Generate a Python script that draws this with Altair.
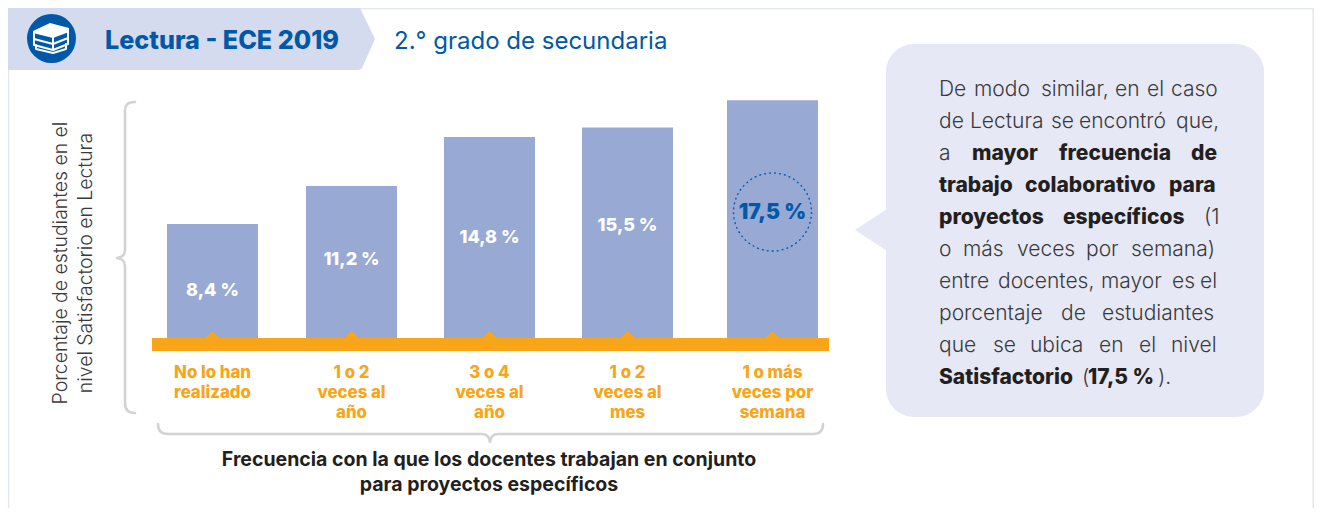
import altair as alt
import pandas as pd

CATEGORIES = ["No lo han\nrealizado", "1 o 2\nveces al\naño", "3 o 4\nveces al\naño", "1 o 2\nveces al\nmes", "1 o más\nveces por\nsemana"]
VALUES = [8.4, 11.2, 14.8, 15.5, 17.5]
VALUE_LABELS = ["8,4 %", "11,2 %", "14,8 %", "15,5 %", "17,5 %"]
LABEL_Y_IMG = [296, 265, 243, 231, 219]

BLUE = "#0058A9"; BAR = "#98A9D4"; ORANGE = "#F9A51A"; RIBBON = "#D5DBEE"; BUBBLE = "#E6E8F5"
GREY = "#D2D3D5"; INK = "#231F20"; SOFT = "#3A3A3C"; FRAME = "#E3E6F3"
FONT = "Inter"
OFF = 8

PARAGRAPH = [
    (96, [("De", 939, 0), ("modo", 974, 0), ("similar,", 1041, 0), ("en", 1115, 0), ("el", 1147, 0), ("caso", 1171, 0)]),
    (128, [("de", 939, 0), ("Lectura", 970, 0), ("se", 1051, 0), ("encontró", 1079, 0), ("que,", 1176, 0)]),
    (160, [("a", 939, 0), ("mayor", 972, 1), ("frecuencia", 1059, 1), ("de", 1191, 1)]),
    (192, [("trabajo", 939, 1), ("colaborativo", 1025, 1), ("para", 1169, 1)]),
    (224, [("proyectos", 939, 1), ("específicos", 1063, 1), ("(1", 1204, 0)]),
    (256, [("o", 939, 0), ("más", 963, 0), ("veces", 1017, 0), ("por", 1086, 0), ("semana)", 1131, 0)]),
    (288, [("entre", 939, 0), ("docentes,", 998, 0), ("mayor", 1101, 0), ("es", 1172, 0), ("el", 1200, 0)]),
    (320, [("porcentaje", 939, 0), ("de", 1061, 0), ("estudiantes", 1102, 0)]),
    (352, [("que", 939, 0), ("se", 993, 0), ("ubica", 1030, 0), ("en", 1099, 0), ("el", 1139, 0), ("nivel", 1171, 0)]),
    (384, [("Satisfactorio", 939, 1), ("(", 1082, 0), ("17,5 %", 1088, 1), (").", 1158, 0)]),
]

ranks = list(range(len(VALUES)))
bars = pd.DataFrame({"rank": ranks, "value": VALUES, "label": VALUE_LABELS, "cat": CATEGORIES,
                     "ly": [v - OFF for v in LABEL_Y_IMG]})
ONE = pd.DataFrame({"a": [0]})

X_RANK = alt.X("rank:Q", axis=None, scale=alt.Scale(domain=ranks, range=[204.5, 343.5, 481.5, 619.5, 764.5], padding=0, nice=False, zero=False))
Y_VAL = alt.Y("value:Q", axis=None, stack=None, scale=alt.Scale(domain=[0, 24.3], range=[330, 0]))


def shape(path, fill=None, stroke=None, width=2.0):
    kw = dict(shape=path, size=4, opacity=1)
    if fill:
        kw.update(filled=True, fill=fill, strokeWidth=0)
    else:
        kw.update(filled=False, stroke=stroke, strokeWidth=width, strokeCap="round", strokeJoin="round")
    return alt.Chart(ONE).mark_point(**kw).encode(x=alt.value(-OFF), y=alt.value(-OFF))


def text(t, x, y, size, color, weight=400, align="left", angle=0, font=FONT):
    return alt.Chart(ONE).mark_text(text=t, font=font, fontSize=size, fontWeight=weight, color=color,
                                    align=align, baseline="alphabetic", angle=angle).encode(
        x=alt.value(x - OFF), y=alt.value(y - OFF))


layers = [
    shape("M8.5,520 L8.5,8.5 L1313.2,8.5 L1313.2,520", stroke=FRAME, width=1.6),
    shape("M8,8 L360,8 L375,39 L362,68 Q361,70 358,70 L8,70 Z", fill=RIBBON),
    alt.Chart(ONE).mark_point(shape="circle", size=2400, filled=True, fill=BLUE, opacity=1, strokeWidth=0).encode(
        x=alt.value(51.5 - OFF), y=alt.value(38.5 - OFF)),
    shape("M33,31 L50,23 L69,28 L69,32 L53,38 L33,33 Z", fill="#FFFFFF"),
    shape("M34,33 L34,39 L53,44 L68,38 L68,32 M53,38 L53,44 M34,39 L34,45 L53,50 L68,44 L68,38 M53,44 L53,50 M36,45 L36,49 L53,53 L66,49 L66,44",
          stroke="#FFFFFF", width=2),
    text("Lectura - ECE 2019", 105, 49, 25.2, BLUE, 800),
    text("2.° grado de secundaria", 394, 49, 24, BLUE, 400),
    # bubble
    alt.Chart(ONE).mark_rect(fill=BUBBLE, cornerRadius=28).encode(
        x=alt.value(886 - OFF), x2=alt.value(1264 - OFF), y=alt.value(44 - OFF), y2=alt.value(417 - OFF)),
    shape("M887,209 L855,230 L887,251 Z", fill=BUBBLE),
    # bars
    alt.Chart(bars).mark_bar(width=91, color=BAR, orient="vertical").encode(x=X_RANK, y=Y_VAL),
    alt.Chart(ONE).mark_rect(fill=ORANGE).encode(
        x=alt.value(152 - OFF), x2=alt.value(829 - OFF), y=alt.value(338 - OFF), y2=alt.value(351 - OFF)),
    alt.Chart(bars).mark_point(shape="M-14.5,14 L0,0 L14.5,14 Z", size=4, filled=True, fill=ORANGE, opacity=1, strokeWidth=0).encode(
        x=X_RANK, y=alt.value(331 - OFF)),
    alt.Chart(bars.iloc[:4]).mark_text(font=FONT, fontSize=18, fontWeight=800, color="#FFFFFF", baseline="alphabetic").encode(
        x=X_RANK, y=alt.Y("ly:Q", axis=None, scale=None), text="label:N"),
    alt.Chart(bars.iloc[4:]).mark_text(font=FONT, fontSize=21, fontWeight=900, color=BLUE, baseline="alphabetic").encode(
        x=X_RANK, y=alt.Y("ly:Q", axis=None, scale=None), text="label:N"),
    alt.Chart(ONE).mark_point(shape="circle", size=6084, filled=False, stroke=BLUE, strokeWidth=1.3, strokeDash=[2, 3], opacity=1).encode(
        x=alt.value(772.5 - OFF), y=alt.value(212 - OFF)),
    alt.Chart(bars).mark_text(font=FONT, fontSize=16.8, fontWeight=800, color=ORANGE, baseline="alphabetic",
                              lineBreak="\n", lineHeight=20).encode(
        x=X_RANK, y=alt.value(378 - OFF), text="cat:N"),
    # braces
    shape("M135,102 Q124,102 125,112 L125,250 Q125,257 117,258 Q125,259 125,266 L125,403 Q125,413 135,413", stroke=GREY, width=2.6),
    shape("M158,424 Q158,434 168,434 L482,434 Q489,434 490,442 Q491,434 498,434 L813,434 Q823,434 823,424", stroke=GREY, width=2.6),
    # axis captions
    text("Porcentaje de estudiantes en el", 67, 263, 19.4, SOFT, 300, "center", 270),
    text("nivel Satisfactorio en Lectura", 92, 263, 19.4, SOFT, 300, "center", 270),
    text("Frecuencia con la que los docentes trabajan en conjunto", 489, 466, 19.5, INK, 700, "center"),
    text("para proyectos específicos", 489, 491, 19.5, INK, 700, "center"),
]

for baseline, words in PARAGRAPH:
    for word, x, bold in words:
        layers.append(text(word, x, baseline, 21, INK if bold else SOFT, 800 if bold else 300))

chart = alt.layer(*layers).resolve_scale(x="independent", y="independent").properties(
    width=1306, height=500, padding=0, autosize=alt.AutoSizeParams(type="none"), background="#FFFFFF"
).configure_view(stroke=None)

chart.save("out.html", embed_options={"renderer": "svg", "actions": False})
